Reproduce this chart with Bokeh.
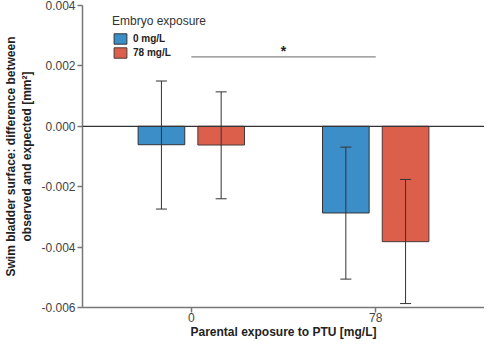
from bokeh.plotting import figure
from bokeh.models import (ColumnDataSource, FactorRange, Range1d, Legend, LegendItem,
                          Whisker, TeeHead, Span, FixedTicker)
from bokeh.transform import dodge
from bokeh.core.properties import value
from bokeh.embed import file_html
from bokeh.resources import INLINE

# Data
parental = ["0", "78"]
embryo_groups = ["0 mg/L", "78 mg/L"]
mean_0 = [-0.00061, -0.00287]
mean_78 = [-0.00062, -0.00382]
upper_0 = [0.00150, -0.00069]
lower_0 = [-0.00274, -0.00506]
upper_78 = [0.00114, -0.00176]
lower_78 = [-0.00240, -0.00587]
sig_y = 0.0023
sig_label = "*"

FONT = "Liberation Sans"
BLUE = "#3b8ec8"
RED = "#db5f4b"
AXIS = "#777777"
TXT = "#222222"

src0 = ColumnDataSource(dict(x=parental, top=mean_0, upper=upper_0, lower=lower_0))
src78 = ColumnDataSource(dict(x=parental, top=mean_78, upper=upper_78, lower=lower_78))

p = figure(width=484, height=341, output_backend="svg", toolbar_location=None,
           x_range=FactorRange(factors=parental, range_padding=0.09),
           y_range=Range1d(-0.006, 0.004),
           min_border_left=66, min_border_right=0, min_border_top=5, min_border_bottom=30)
p.outline_line_color = None
p.grid.grid_line_color = None
p.background_fill_color = "white"
p.border_fill_color = "white"

w = 0.253
off = 0.162
r0 = p.vbar(x=dodge("x", -off, range=p.x_range), top="top", bottom=0, width=w, source=src0,
            fill_color=BLUE, line_color="#333333", line_width=1)
r78 = p.vbar(x=dodge("x", off, range=p.x_range), top="top", bottom=0, width=w, source=src78,
             fill_color=RED, line_color="#4a3a36", line_width=1)

for src, o in ((src0, -off), (src78, off)):
    wk = Whisker(source=src, base=dodge("x", o, range=p.x_range), upper="upper", lower="lower",
                 line_color="#333333", line_width=1, level="annotation",
                 upper_head=TeeHead(size=11, line_color="#333333", line_width=1),
                 lower_head=TeeHead(size=11, line_color="#333333", line_width=1))
    p.add_layout(wk)

p.add_layout(Span(location=0, dimension="width", line_color="#333333", line_width=1.2))

# significance bracket
p.segment(x0=[parental[0]], x1=[parental[1]], y0=[sig_y], y1=[sig_y], line_color="#888888", line_width=1.2)
sig_src = ColumnDataSource(dict(x=[parental[0]], y=[sig_y], t=[sig_label]))
p.text(x=dodge("x", 0.5, range=p.x_range), y="y", text="t", source=sig_src,
       text_font=value(FONT), text_font_size="14px", text_font_style="bold",
       text_align="center", text_baseline="bottom", y_offset=2, text_color=TXT)

# axes
p.yaxis.ticker = FixedTicker(ticks=[-0.006, -0.004, -0.002, 0.0, 0.002, 0.004])
p.yaxis.major_label_overrides = {-0.006: "-0.006", -0.004: "-0.004", -0.002: "-0.002",
                                 0.0: "0.000", 0.002: "0.002", 0.004: "0.004"}
p.yaxis.minor_tick_line_color = None
p.xaxis.minor_tick_line_color = None
for ax in (p.xaxis, p.yaxis):
    ax.axis_line_color = AXIS
    ax.axis_line_width = 1.5
    ax.major_tick_line_color = AXIS
    ax.major_tick_line_width = 1.5
    ax.major_tick_out = 5
    ax.major_tick_in = 0
    ax.major_label_text_font = FONT
    ax.major_label_text_font_size = "12px"
    ax.major_label_text_color = "#444444"
    ax.axis_label_text_font = FONT
    ax.axis_label_text_font_size = "12px"
    ax.axis_label_text_font_style = "bold"
    ax.axis_label_text_color = TXT
p.yaxis.major_label_standoff = 2
p.xaxis.major_label_standoff = 0
p.xaxis.axis_label = "Parental exposure to PTU [mg/L]"
p.xaxis.axis_label_standoff = 0
p.yaxis.axis_label = "Swim bladder surface: difference between\nobserved and expected [mm\u00b2]"
p.yaxis.axis_label_standoff = 4

legend = Legend(items=[LegendItem(label=embryo_groups[0], renderers=[r0]),
                       LegendItem(label=embryo_groups[1], renderers=[r78])],
                location=(30, 248), title="Embryo exposure",
                title_text_font=FONT, title_text_font_size="12px", title_text_font_style="normal",
                title_text_color="#333333", title_standoff=4,
                label_text_font=FONT, label_text_font_size="10px", label_text_font_style="bold",
                label_text_color=TXT, glyph_width=16, glyph_height=13, label_height=12,
                spacing=1, padding=4, margin=0, border_line_color=None,
                background_fill_alpha=0)
p.add_layout(legend)

open("out.html", "w").write(file_html(p, INLINE))
